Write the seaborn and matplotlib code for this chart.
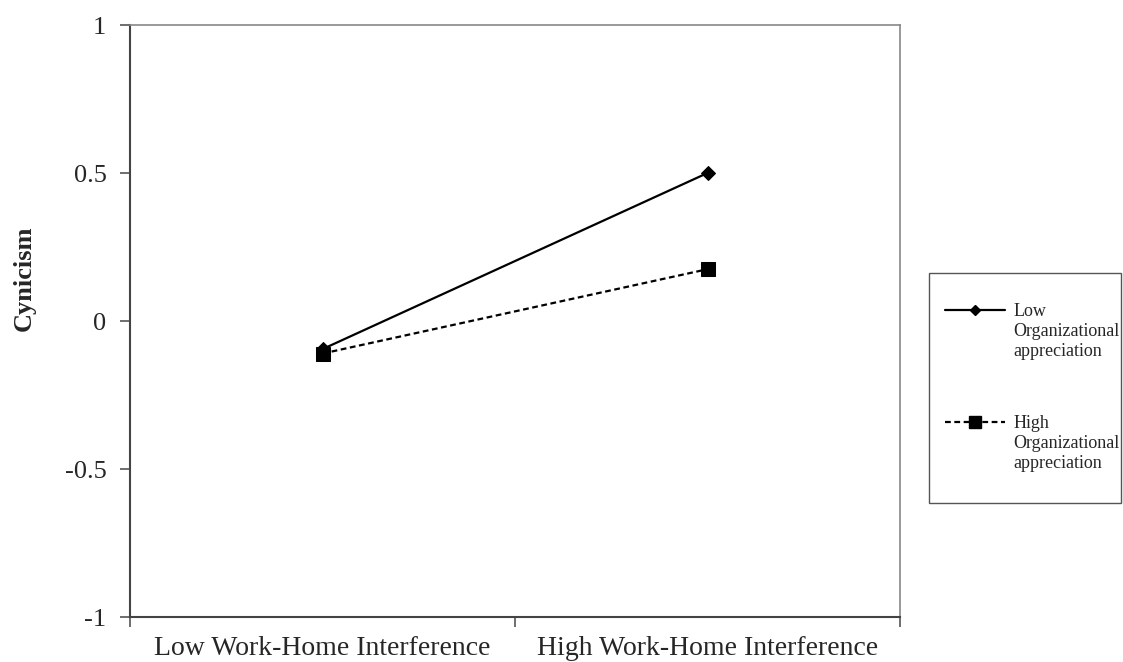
import matplotlib
matplotlib.use("Agg")
import matplotlib.pyplot as plt
import seaborn as sns
import pandas as pd
from matplotlib.lines import Line2D
from matplotlib.patches import Rectangle
from matplotlib.legend_handler import HandlerLine2D

categories = ["Low Work-Home Interference", "High Work-Home Interference"]
low_appreciation = [-0.095, 0.50]
high_appreciation = [-0.11, 0.175]
series_names = ["Low\nOrganizational\nappreciation", "High\nOrganizational\nappreciation"]
y_ticks = [-1, -0.5, 0, 0.5, 1]
y_tick_labels = ["-1", "-0.5", "0", "0.5", "1"]

df = pd.DataFrame({
    "x": categories * 2,
    "y": low_appreciation + high_appreciation,
    "group": [series_names[0]] * 2 + [series_names[1]] * 2,
})

sns.set_theme(style="white")
plt.rcParams["font.family"] = ["Liberation Serif", "DejaVu Serif"]

W, H = 1123, 662
fig = plt.figure(figsize=(W / 100, H / 100), dpi=100)
ax = fig.add_axes([130 / W, 1 - 617 / H, 770 / W, 592 / H])

sns.lineplot(data=df, x="x", y="y", hue="group", style="group",
             palette=["black", "black"], dashes=[(None, None), (2.6, 1.6)],
             markers=["D", "s"], linewidth=1.6, ax=ax, legend=False, sort=False)
for ln, ms in zip(ax.get_lines(), [7, 10]):
    ln.set_markersize(ms)
    ln.set_markerfacecolor("black")
    ln.set_markeredgecolor("black")

ax.set_xlim(-0.5, 1.5)
ax.set_ylim(-1, 1)
ax.set_yticks(y_ticks)
ax.set_yticklabels(y_tick_labels, fontsize=19)
ax.set_xticks([0, 1])
ax.set_xticklabels(categories, fontsize=20)
ax.set_xticks([-0.5, 0.5, 1.5], minor=True)
ax.tick_params(axis="x", which="major", length=0, pad=14)
ax.tick_params(axis="x", which="minor", length=7, width=1.2, color="#555555", direction="out", bottom=True)
ax.tick_params(axis="y", which="major", length=7, width=1.2, color="#555555", direction="out", left=True, pad=10)
ax.set_xlabel("")
ax.set_ylabel("Cynicism", fontsize=19, fontweight="bold")
ax.yaxis.set_label_coords((36 - 130) / 770, (617 - 278) / 592)

for side in ["left", "bottom"]:
    ax.spines[side].set_color("#444444")
    ax.spines[side].set_linewidth(1.5)
for side in ["top", "right"]:
    ax.spines[side].set_color("#888888")
    ax.spines[side].set_linewidth(1.2)


class TopHandler(HandlerLine2D):
    """Legend handler placing the line next to the first text line."""
    def __init__(self, shift, **kw):
        super().__init__(**kw)
        self.shift = shift

    def create_artists(self, legend, orig_handle, xdescent, ydescent, width, height, fontsize, trans):
        arts = super().create_artists(legend, orig_handle, xdescent, ydescent, width, height, fontsize, trans)
        for a in arts:
            xd, yd = a.get_data()
            a.set_data(xd, [y + self.shift for y in yd])
        return arts


handles = [
    Line2D([], [], color="black", linewidth=1.6, marker="D", markersize=5.5),
    Line2D([], [], color="black", linewidth=1.6, linestyle=(0, (2.6, 1.6)), marker="s", markersize=8),
]
leg_fs = 13
shift = leg_fs * 1.2
leg = fig.legend(handles, series_names, loc="upper left",
                 bbox_to_anchor=(945 / W, 1 - 303 / H), bbox_transform=fig.transFigure,
                 fontsize=leg_fs, frameon=False, handlelength=3.3,
                 labelspacing=3.0, borderpad=0, handletextpad=0.5, borderaxespad=0,
                 handler_map={h: TopHandler(shift) for h in handles})
for t in leg.get_texts():
    t.set_linespacing(1.25)

fig.patches.append(Rectangle((929 / W, 1 - 503 / H), (1121 - 929) / W, (503 - 273) / H,
                             transform=fig.transFigure, fill=False,
                             edgecolor="#555555", linewidth=1.0))

fig.savefig("out.png", dpi=100, facecolor="white")
